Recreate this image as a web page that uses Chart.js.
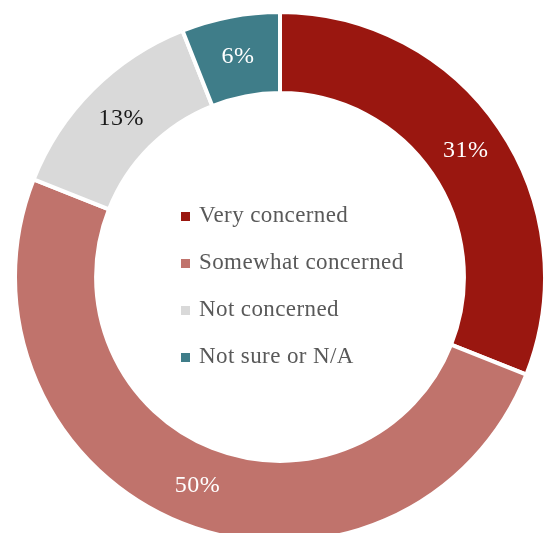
<!DOCTYPE html>
<html>
<head>
<meta charset="utf-8">
<script src="https://cdn.jsdelivr.net/npm/chart.js@4"></script>
<style>
    html, body {
        margin: 0;
        padding: 0;
        width: 548px;
        height: 533px;
        overflow: hidden;
        background: #fff;
    }
    #wrap {
        position: absolute;
        left: 13px;
        top: 10px;
        width: 534px;
        height: 534px;
    }
</style>
</head>
<body>
<div id="wrap"><canvas id="chart-concern"></canvas></div>
<script>
// Nivel de preocupación - datos
const categorias = ['Very concerned', 'Somewhat concerned', 'Not concerned', 'Not sure or N/A'];
const porcentajes = [31, 50, 13, 6];
const colores = ['#9a1710', '#c0736c', '#d9d9d9', '#3f7d89'];
const coloresEtiqueta = ['#ffffff', '#ffffff', '#1a1a1a', '#ffffff'];

const FUENTE = '"Liberation Serif", "Times New Roman", serif';

// Etiquetas de porcentaje sobre cada segmento
const etiquetasPlugin = {
    id: 'etiquetas',
    afterDatasetsDraw(chart) {
        const ctx = chart.ctx;
        const meta = chart.getDatasetMeta(0);
        ctx.save();
        ctx.font = '24px ' + FUENTE;
        ctx.letterSpacing = '0.5px';
        ctx.textAlign = 'center';
        ctx.textBaseline = 'middle';
        meta.data.forEach((arc, i) => {
            const p = arc.getCenterPoint();
            ctx.fillStyle = coloresEtiqueta[i];
            ctx.fillText(porcentajes[i] + '%', p.x, p.y);
        });
        ctx.restore();
    }
};

// Leyenda dentro del hueco central
const leyendaPlugin = {
    id: 'leyendaCentro',
    afterDraw(chart) {
        const ctx = chart.ctx;
        const arc = chart.getDatasetMeta(0).data[0];
        const cx = arc.x;
        const cy = arc.y;
        ctx.save();
        ctx.font = '23px ' + FUENTE;
        ctx.letterSpacing = '0.4px';
        ctx.textAlign = 'left';
        ctx.textBaseline = 'alphabetic';
        categorias.forEach((nombre, i) => {
            const base = cy - 55 + i * 47;
            ctx.fillStyle = colores[i];
            ctx.fillRect(cx - 99, base - 10, 9, 9);
            ctx.fillStyle = '#595959';
            ctx.fillText(nombre, cx - 81, base);
        });
        ctx.restore();
    }
};

function crearGrafico() {
    const ctx = document.getElementById('chart-concern');
    new Chart(ctx, {
        type: 'doughnut',
        data: {
            labels: categorias,
            datasets: [{
                data: porcentajes,
                backgroundColor: colores,
                borderColor: '#ffffff',
                borderWidth: 4
            }]
        },
        options: {
            responsive: true,
            maintainAspectRatio: false,
            animation: false,
            cutout: '69.4%',
            layout: { padding: 0 },
            plugins: {
                legend: { display: false },
                tooltip: { enabled: false }
            }
        },
        plugins: [etiquetasPlugin, leyendaPlugin]
    });
}

crearGrafico();
</script>
</body>
</html>
